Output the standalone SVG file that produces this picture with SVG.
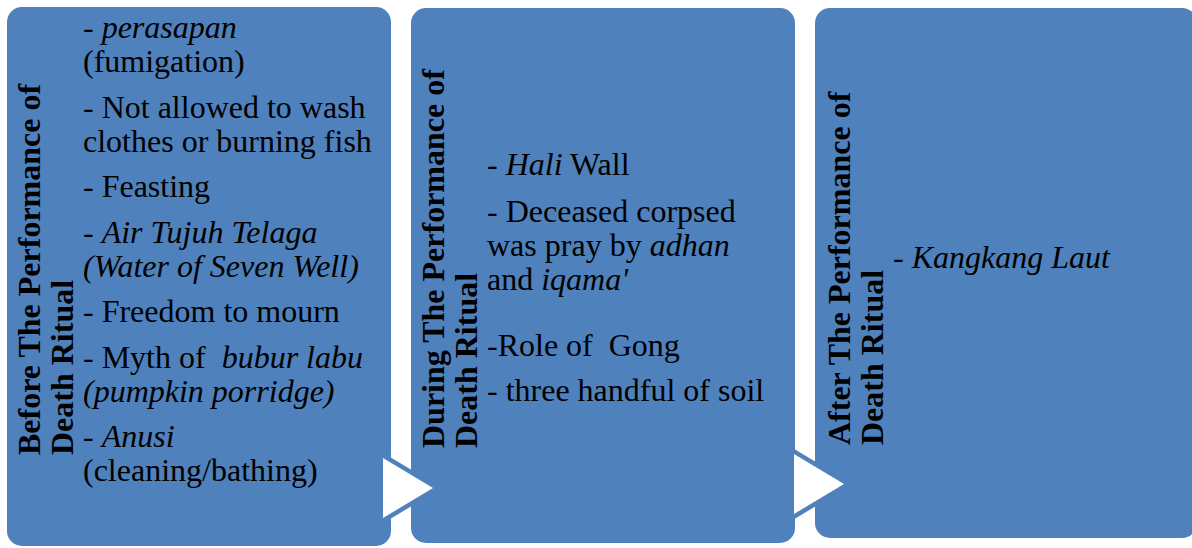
<svg xmlns="http://www.w3.org/2000/svg" width="1192" height="548" viewBox="0 0 1192 548">
  <style>
    .box { fill: #4F81BD; }
    .arrow { fill: #FFFFFF; stroke: #4F81BD; stroke-width: 9; stroke-linejoin: miter; paint-order: stroke; }
    .title { font-family: "Liberation Serif", "Times New Roman", serif; font-size: 32px; font-weight: bold; fill: #000000; }
    .item { font-family: "Liberation Serif", "Times New Roman", serif; font-size: 32px; fill: #000000; white-space: pre; }
    .it { font-style: italic; }
  </style>
  <rect width="1192" height="548" fill="#FFFFFF"/>

  <!-- stage 1 -->
  <g id="before">
    <rect class="box" x="7" y="7" width="384" height="539" rx="15" ry="15"/>
    <text class="title" transform="translate(40 455) rotate(-90)">Before The Performance of</text>
    <text class="title" transform="translate(73 455) rotate(-90)">Death Ritual</text>
    <text class="item" x="83" y="38">- <tspan class="it">perasapan</tspan></text>
    <text class="item" x="83" y="72">(fumigation)</text>
    <text class="item" x="83" y="117.5">- Not allowed to wash</text>
    <text class="item" x="83" y="151.5">clothes or burning fish</text>
    <text class="item" x="83" y="197">- Feasting</text>
    <text class="item" x="83" y="242.5">- <tspan class="it">Air Tujuh Telaga</tspan></text>
    <text class="item it" x="83" y="276.5">(Water of Seven Well)</text>
    <text class="item" x="83" y="322">- Freedom to mourn</text>
    <text class="item" x="83" y="367.5">- Myth of&#160; <tspan class="it">bubur labu</tspan></text>
    <text class="item it" x="83" y="401.5">(pumpkin porridge)</text>
    <text class="item" x="83" y="447">- <tspan class="it">Anusi</tspan></text>
    <text class="item" x="83" y="481">(cleaning/bathing)</text>
  </g>

  <!-- stage 2 -->
  <g id="during">
    <rect class="box" x="411" y="8" width="384" height="535" rx="15" ry="15"/>
    <text class="title" transform="translate(444 448) rotate(-90)">During The Performance of</text>
    <text class="title" transform="translate(477 448) rotate(-90)">Death Ritual</text>
    <text class="item" x="487" y="175">- <tspan class="it">Hali</tspan> Wall</text>
    <text class="item" x="487" y="222">- Deceased corpsed</text>
    <text class="item" x="487" y="256">was pray by <tspan class="it">adhan</tspan></text>
    <text class="item" x="487" y="290">and <tspan class="it">iqama'</tspan></text>
    <text class="item" x="487" y="356">-Role of&#160; Gong</text>
    <text class="item" x="487" y="401">- three handful of soil</text>
  </g>

  <!-- stage 3 -->
  <g id="after">
    <rect class="box" x="815" y="8" width="382" height="530" rx="15" ry="15"/>
    <text class="title" transform="translate(850 445) rotate(-90)">After The Performance of</text>
    <text class="title" transform="translate(883 445) rotate(-90)">Death Ritual</text>
    <text class="item" x="893" y="268">- <tspan class="it">Kangkang Laut</tspan></text>
  </g>

  <!-- transitions between stages -->
  <g id="connectors">
    <polygon class="arrow" points="383,458 433,488 383,518"/>
    <polygon class="arrow" points="794,454 844,484 794,514"/>
  </g>
</svg>
